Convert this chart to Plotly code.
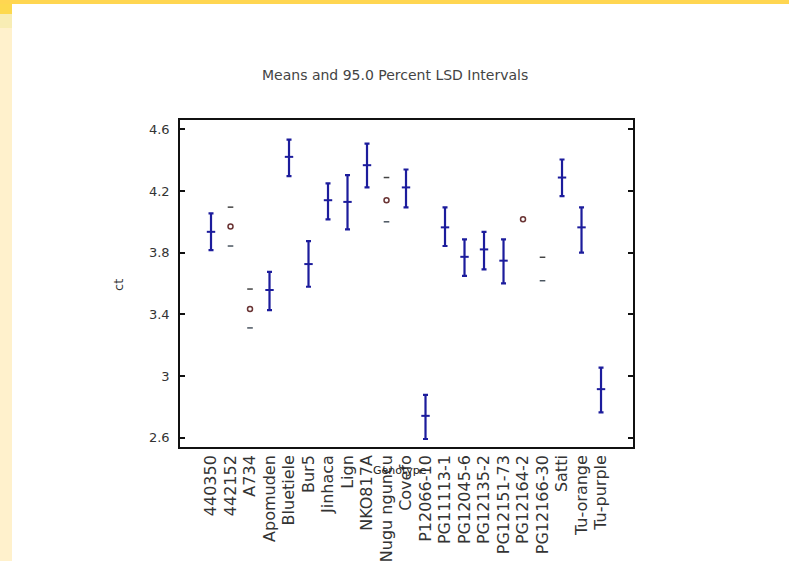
import plotly.graph_objects as go

# ---- data ----
genotypes = ["440350", "442152", "A734", "Apomuden", "Bluetiele", "Bur5", "Jinhaca",
             "Lign", "NKO817A", "Nugu nguncu", "Covefo", "P12066-10", "PG11113-1",
             "PG12045-6", "PG12135-2", "PG12151-73", "PG12164-2", "PG12166-30",
             "Satti", "Tu-orange", "Tu-purple"]
means = [3.935, 3.97, 3.435, 3.558, 4.421, 3.726, 4.14, 4.129, 4.367, 4.14, 4.223, 2.742,
         3.964, 3.773, 3.821, 3.748, 4.016, None, 4.287, 3.964, 2.915]
lower = [3.817, 3.843, 3.312, 3.428, 4.296, 3.579, 4.016, 3.951, 4.223, 4.0, 4.093, 2.592,
         3.843, 3.649, 3.692, 3.601, None, 3.618, 4.166, 3.8, 2.764]
upper = [4.054, 4.095, 3.564, 3.676, 4.533, 3.875, 4.249, 4.302, 4.507, 4.287, 4.339, 2.878,
         4.093, 3.886, 3.935, 3.886, None, 3.77, 4.404, 4.093, 3.055]
# intervals whose bars are faded out in the picture (only end marks remain)
faded = [False, True, True, False, False, False, False, False, False, True, False, False,
         False, False, False, False, True, True, False, False, False]
ytick_vals = [2.6, 3.0, 3.4, 3.8, 4.2, 4.6]
ytick_text = ["2.6", "3", "3.4", "3.8", "4.2", "4.6"]

W, H = 789, 561
L, R, T, B = 180, 633, 120, 447
def px(x):
    return (x - L) / (R - L)
def py(y):
    return (B - y) / (B - T)

blue = "#1c1c9c"
fig = go.Figure()

sx, sy, sp, sm = [], [], [], []
for g, m, lo, up, f in zip(genotypes, means, lower, upper, faded):
    if not f:
        sx.append(g); sy.append(m); sp.append(up - m); sm.append(m - lo)
fig.add_trace(go.Scatter(
    x=sx, y=sy, mode="markers",
    marker=dict(symbol="line-ew", size=6, color=blue, line=dict(color=blue, width=2)),
    error_y=dict(type="data", symmetric=False, array=sp, arrayminus=sm,
                 color=blue, thickness=2.2, width=2.5),
    showlegend=False, hoverinfo="skip"))

fx = [g for g, f in zip(genotypes, faded) if f]
fup = [u for u, f in zip(upper, faded) if f]
flo = [l for l, f in zip(lower, faded) if f]
fm = [m for m, f in zip(means, faded) if f]
fig.add_trace(go.Scatter(x=fx, y=fup, mode="markers",
    marker=dict(symbol="line-ew", size=4, color="#444", line=dict(color="#444", width=1.5)),
    showlegend=False, hoverinfo="skip"))
fig.add_trace(go.Scatter(x=fx, y=flo, mode="markers",
    marker=dict(symbol="line-ew", size=4, color="#4a5560", line=dict(color="#4a5560", width=1.5)),
    showlegend=False, hoverinfo="skip"))
fig.add_trace(go.Scatter(x=fx, y=fm, mode="markers",
    marker=dict(symbol="circle-open", size=5, color="#6a3434", line=dict(color="#6a3434", width=1.5)),
    showlegend=False, hoverinfo="skip"))

shapes = [
    dict(type="rect", xref="paper", yref="paper", x0=px(0), x1=px(W), y0=py(0), y1=py(4),
         fillcolor="#FFD651", line=dict(width=0), layer="below"),
    dict(type="rect", xref="paper", yref="paper", x0=px(0), x1=px(12), y0=py(4), y1=py(14),
         fillcolor="#FDD94E", line=dict(width=0), layer="below"),
    dict(type="rect", xref="paper", yref="paper", x0=px(0), x1=px(12), y0=py(14), y1=py(28),
         fillcolor="#F8EDB4", line=dict(width=0), layer="below"),
    dict(type="rect", xref="paper", yref="paper", x0=px(0), x1=px(12), y0=py(28), y1=py(H),
         fillcolor="#FFF1CC", line=dict(width=0), layer="below"),
]

font_main = "DejaVu Sans, Arial, sans-serif"
annotations = [
    dict(text="Means and 95.0 Percent LSD Intervals", xref="paper", yref="paper",
         x=px(395), y=py(75), showarrow=False, xanchor="center", yanchor="middle",
         font=dict(family=font_main, size=14, color="#444")),
    dict(text="ct", xref="paper", yref="paper", x=px(118), y=py(285), showarrow=False,
         textangle=-90, xanchor="center", yanchor="middle",
         font=dict(family=font_main, size=13, color="#333")),
    dict(text="Genotype", xref="paper", yref="paper", x=px(400), y=py(470), showarrow=False,
         xanchor="center", yanchor="middle",
         font=dict(family=font_main, size=11, color="#222")),
]

fig.update_layout(
    width=W, height=H,
    margin=dict(l=L, r=W - R, t=T, b=H - B, pad=0, autoexpand=False),
    paper_bgcolor="white", plot_bgcolor="white",
    shapes=shapes, annotations=annotations,
    xaxis=dict(type="category", categoryorder="array", categoryarray=genotypes,
               range=[-1.59, 21.64], showgrid=False, zeroline=False, automargin=False,
               showline=True, linecolor="#111", linewidth=1.5, mirror=True,
               ticks="", tickangle=-90,
               tickfont=dict(family=font_main, size=16, color="#333")),
    yaxis=dict(range=[2.54, 4.66], tickvals=ytick_vals, ticktext=ytick_text,
               showgrid=False, zeroline=False, showline=True, linecolor="#111",
               linewidth=1.5, mirror="ticks", ticks="inside", ticklen=5,
               tickwidth=1.5, tickcolor="#111", automargin=False,
               ticklabelstandoff=6,
               tickfont=dict(family=font_main, size=13, color="#333")),
)

fig.write_html("out.html", config={"displayModeBar": False},
               post_script="document.body.style.margin='0';document.body.style.overflow='hidden';")
